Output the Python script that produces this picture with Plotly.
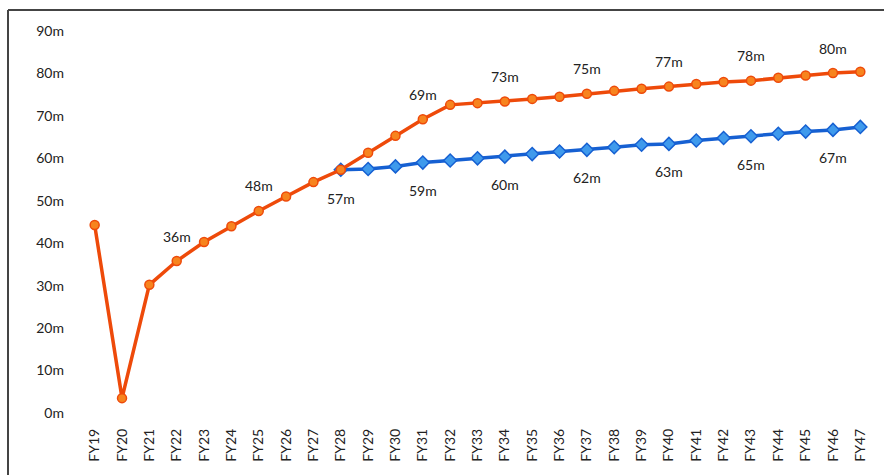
import plotly.graph_objects as go

years = [f"FY{y}" for y in range(19, 48)]
orange_vals = [44.3, 3.5, 30.2, 35.8, 40.3, 44.0, 47.6, 51.0, 54.4, 57.3,
               61.3, 65.3, 69.2, 72.6, 73.0, 73.4, 74.0, 74.5, 75.2, 75.9,
               76.4, 76.9, 77.5, 78.0, 78.3, 79.0, 79.5, 80.1, 80.4]
blue_years = years[9:]
blue_vals = [57.3, 57.5, 58.1, 59.0, 59.5, 60.0, 60.4, 61.0, 61.6, 62.0,
             62.6, 63.2, 63.4, 64.2, 64.8, 65.2, 65.8, 66.3, 66.7, 67.4]
orange_label_years = ["FY22", "FY25", "FY31", "FY34", "FY37", "FY40", "FY43", "FY46"]
orange_below_years = ["FY28"]
blue_label_years = ["FY31", "FY34", "FY37", "FY40", "FY43", "FY46"]
y_ticks = list(range(0, 91, 10))

FONT = "Lato, Open Sans, sans-serif"
ORANGE = "#EE4A0A"
ORANGE_FILL = "#F7841E"
BLUE = "#1660D2"
BLUE_FILL = "#3F9AEC"

fig = go.Figure()
fig.add_trace(go.Scatter(
    x=blue_years, y=blue_vals, mode="lines+markers",
    line=dict(color=BLUE, width=3.5),
    marker=dict(symbol="diamond", size=10, color=BLUE_FILL, line=dict(color=BLUE, width=1.5)),
    showlegend=False, hoverinfo="x+y"))
fig.add_trace(go.Scatter(
    x=years, y=orange_vals, mode="lines+markers",
    line=dict(color=ORANGE, width=3.5),
    marker=dict(symbol="circle", size=9, color=ORANGE_FILL, line=dict(color=ORANGE, width=1.5)),
    showlegend=False, hoverinfo="x+y"))

annotations = []
for yr in orange_label_years:
    v = orange_vals[years.index(yr)]
    annotations.append(dict(x=yr, y=v, text=f"{round(v)}m", showarrow=False,
                            yshift=25, font=dict(family=FONT, size=14, color="#222")))
for yr in orange_below_years:
    v = orange_vals[years.index(yr)]
    annotations.append(dict(x=yr, y=v, text=f"{round(v)}m", showarrow=False,
                            yshift=-29, font=dict(family=FONT, size=14, color="#222")))
for yr in blue_label_years:
    v = blue_vals[blue_years.index(yr)]
    annotations.append(dict(x=yr, y=v, text=f"{round(v)}m", showarrow=False,
                            yshift=-28, font=dict(family=FONT, size=14, color="#222")))

L, R, T, B = 81, 10, 31, 62
W, H = 884, 475
pw, ph = W - L - R, H - T - B
bx = (8 - L) / pw
by = 1 + (T - 10) / ph
shapes = [
    dict(type="line", xref="paper", yref="paper", x0=bx, x1=(W - L) / pw, y0=by, y1=by,
         line=dict(color="#444", width=2)),
    dict(type="line", xref="paper", yref="paper", x0=bx, x1=bx, y0=by, y1=-(H - T - ph) / ph - 0.01,
         line=dict(color="#444", width=2)),
]

fig.update_layout(
    width=W, height=H,
    margin=dict(l=L, r=R, t=T, b=B),
    paper_bgcolor="white", plot_bgcolor="white",
    font=dict(family=FONT, size=14, color="#222"),
    annotations=annotations, shapes=shapes,
    xaxis=dict(type="category", categoryorder="array", categoryarray=years,
               range=[-0.5, len(years) - 0.5], showgrid=False, zeroline=False,
               showline=False, ticks="", tickangle=-90, tickfont=dict(size=14),
               ticklabelstandoff=12),
    yaxis=dict(range=[0, 90], tickvals=y_ticks, ticktext=[f"{v}m" for v in y_ticks],
               showgrid=False, zeroline=False, showline=False, ticks="",
               tickfont=dict(size=14), ticklabelstandoff=16),
)

fig.write_html("out.html")
